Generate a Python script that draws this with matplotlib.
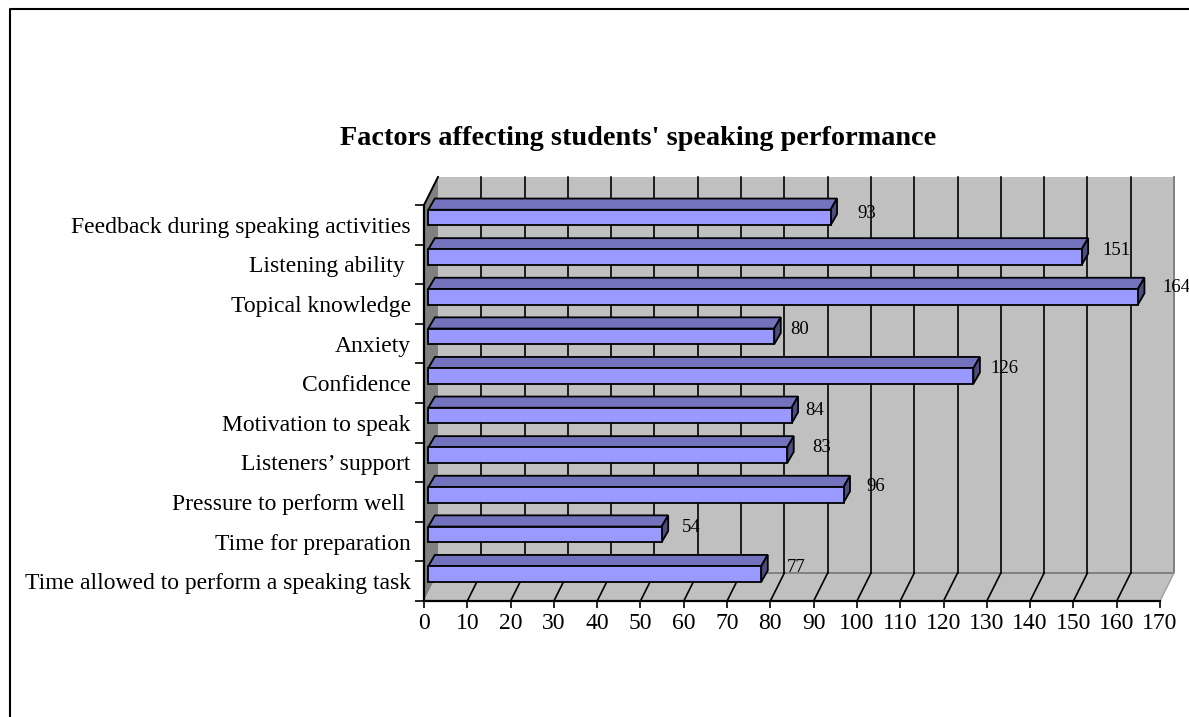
import matplotlib
matplotlib.use("Agg")
import matplotlib.pyplot as plt
from matplotlib.lines import Line2D

plt.rcParams['font.family'] = ['Liberation Serif', 'DejaVu Serif']

# top row first
factors = ["Feedback during speaking activities", "Listening ability ", "Topical knowledge",
           "Anxiety", "Confidence", "Motivation to speak", "Listeners’ support",
           "Pressure to perform well ", "Time for preparation",
           "Time allowed to perform a speaking task"]
counts = [93, 151, 164, 80, 126, 84, 83, 96, 54, 77]
axis_ticks = list(range(0, 171, 10))

# hand nudges for the value labels (px right of bar end, px above bar centre)
label_dx = [20, 14, 18, 10, 11, 7, 19, 16, 14, 19]
label_dy = [12, 14, 17, 15, 15, 13, 15, 16, 15, 14]

BAR_FRONT = "#9999ff"
BAR_TOP = "#7272bd"
BAR_SIDE = "#4c4c80"
WALL = "#c0c0c0"
SIDE_WALL = "#808080"

fig = plt.figure(figsize=(11.89, 7.17), dpi=100)
ax = fig.add_axes([424 / 1189, 1 - 601 / 717, 736 / 1189, 396 / 717])
ax.set_xlim(0, 170)
ax.set_ylim(10, 0)

px_x = 170 / 736
px_y = 10 / 396
wall_dx, wall_dy = 14 * px_x, 28 * px_y
bar_dx, bar_dy = 6.5 * px_x, 11.2 * px_y
bar_start = 1.0

# walls and floor
ax.fill([wall_dx, 170 + wall_dx, 170 + wall_dx, wall_dx],
        [-wall_dy, -wall_dy, 10 - wall_dy, 10 - wall_dy], color=WALL, lw=0, clip_on=False, zorder=1)
ax.fill([0, wall_dx, wall_dx, 0], [0, -wall_dy, 10 - wall_dy, 10], color=SIDE_WALL, lw=0, clip_on=False, zorder=1)
ax.fill([0, 170, 170 + wall_dx, wall_dx], [10, 10, 10 - wall_dy, 10 - wall_dy], color=WALL, lw=0, clip_on=False, zorder=1)
ax.plot([wall_dx, 170 + wall_dx, 170 + wall_dx], [10 - wall_dy, 10 - wall_dy, -wall_dy],
        color=SIDE_WALL, lw=1.4, clip_on=False, zorder=2)
ax.plot([170, 170 + wall_dx], [10, 10 - wall_dy], color="#a0a0a0", lw=1, clip_on=False, zorder=2)
ax.plot([0, wall_dx], [0, -wall_dy], color="black", lw=1.4, clip_on=False, zorder=2)

# gridlines up the back wall and across the floor
for v in axis_ticks[1:-1]:
    ax.plot([v + wall_dx, v + wall_dx], [-wall_dy, 10 - wall_dy], color="black", lw=1.2, clip_on=False, zorder=2)
    ax.plot([v, v + wall_dx], [10, 10 - wall_dy], color="black", lw=1.2, clip_on=False, zorder=2)

for i, (name, v) in enumerate(zip(factors, counts)):
    y0, y1 = i + 0.12, i + 0.515
    ax.fill([bar_start, v + 0.9, v + 0.9 + bar_dx, bar_start + bar_dx],
            [y0, y0, y0 - bar_dy, y0 - bar_dy],
            facecolor=BAR_TOP, edgecolor="black", lw=1.3, clip_on=False, zorder=3)
    ax.fill([v + 0.9, v + 0.9 + bar_dx, v + 0.9 + bar_dx, v + 0.9],
            [y0, y0 - bar_dy, y1 - bar_dy, y1],
            facecolor=BAR_SIDE, edgecolor="black", lw=1.3, clip_on=False, zorder=3)
    ax.fill([bar_start, v + 0.9, v + 0.9, bar_start], [y0, y0, y1, y1],
            facecolor=BAR_FRONT, edgecolor="black", lw=1.3, clip_on=False, zorder=4)
    ax.annotate(str(v), xy=(v + 0.9 + bar_dx, y1), xytext=(label_dx[i] * 0.72, label_dy[i] * 0.72),
                textcoords="offset points", fontsize=13.5, va="center", ha="left",
                annotation_clip=False, zorder=5)

ax.set_xticks(axis_ticks)
ax.set_yticks(range(11))
ax.set_yticklabels([])
ax.set_yticks([i + 0.5 for i in range(10)], factors, minor=True)
ax.tick_params(axis="x", length=5, width=1.2, pad=3.3, labelsize=17)
ax.tick_params(axis="y", which="major", length=6.5, width=1.2)
ax.tick_params(axis="y", which="minor", length=0, pad=9.5, labelsize=17)
for s in ["top", "right"]:
    ax.spines[s].set_visible(False)
for s in ["left", "bottom"]:
    ax.spines[s].set_linewidth(1.6)
    ax.spines[s].set_zorder(6)
ax.patch.set_alpha(0)

fig.text(638.5 / 1189, 1 - 138.5 / 717, "Factors affecting students' speaking performance",
         fontsize=20.3, fontweight="bold", ha="center", va="center")

# chart frame, only top and left are inside the picture
fig.add_artist(Line2D([9.5 / 1189, 9.5 / 1189, 1], [0, 1 - 8.5 / 717, 1 - 8.5 / 717],
                      color="black", lw=1.5, transform=fig.transFigure))

fig.savefig("out.png", dpi=100)
